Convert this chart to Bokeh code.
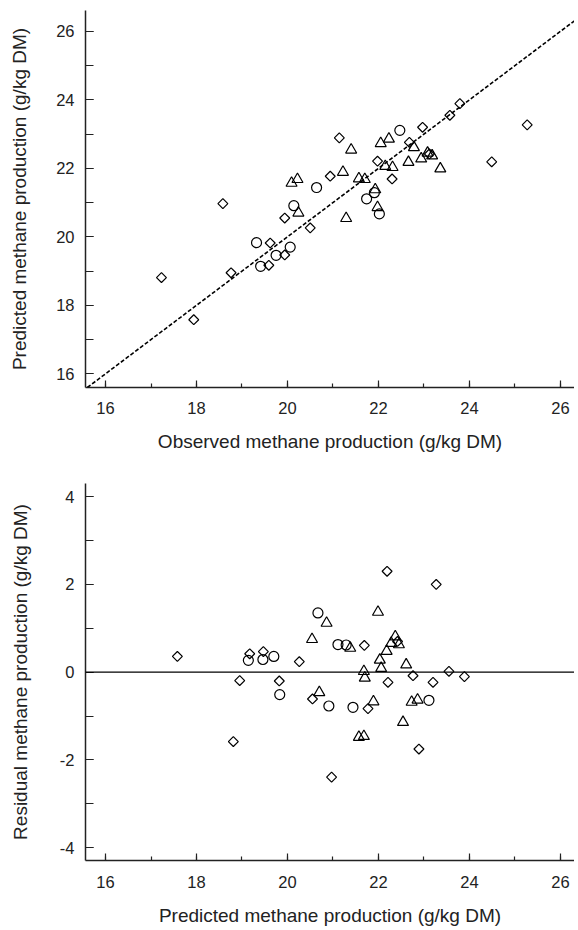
from bokeh.plotting import figure
from bokeh.models import Range1d, SingleIntervalTicker, Slope, Span, NumeralTickFormatter
from bokeh.layouts import column
from bokeh.embed import file_html
from bokeh.resources import INLINE

# ---- data ----
# diamonds
dia_pred = [17.58, 22.19, 23.27, 19.17, 19.47, 20.26, 21.69, 18.95, 19.82, 20.55,
            21.77, 22.21, 22.76, 23.20, 23.55, 23.89, 18.81, 22.89, 20.97, 22.42]
dia_obs = [17.94, 24.49, 25.27, 19.59, 19.94, 20.50, 22.30, 18.76, 19.62, 19.94,
           20.94, 21.98, 22.68, 22.97, 23.57, 23.79, 17.23, 21.14, 18.58, 23.12]
dia_res = [0.36, 2.30, 2.00, 0.42, 0.47, 0.24, 0.61, -0.19, -0.20, -0.61,
           -0.83, -0.23, -0.08, -0.23, 0.02, -0.10, -1.58, -1.75, -2.39, 0.70]
# circles
cir_pred = [20.67, 21.11, 21.29, 19.14, 19.46, 19.70, 19.83, 20.91, 21.44, 23.11]
cir_obs = [22.02, 21.74, 21.91, 19.41, 19.75, 20.06, 19.32, 20.14, 20.64, 22.47]
cir_res = [1.35, 0.63, 0.62, 0.27, 0.29, 0.36, -0.51, -0.77, -0.80, -0.64]
# triangles
tri_pred = [20.54, 20.86, 21.99, 21.38, 22.37, 22.28, 22.45, 22.18, 22.03, 22.06,
            21.68, 21.70, 22.61, 20.70, 21.89, 22.73, 22.86, 22.54, 21.57, 21.68]
tri_obs = [21.29, 21.98, 23.36, 21.93, 23.18, 22.94, 23.08, 22.66, 22.31, 22.15,
           21.70, 21.57, 22.78, 20.24, 21.22, 22.05, 22.23, 21.40, 20.09, 20.22]
tri_res = [0.75, 1.12, 1.37, 0.55, 0.81, 0.66, 0.63, 0.48, 0.28, 0.09,
           0.02, -0.13, 0.17, -0.46, -0.67, -0.68, -0.63, -1.14, -1.48, -1.46]

x_title_top = "Observed methane production (g/kg DM)"
y_title_top = "Predicted methane production (g/kg DM)"
x_title_bot = "Predicted methane production (g/kg DM)"
y_title_bot = "Residual methane production (g/kg DM)"

FONT = "Liberation Sans"
INK = "#222222"


def make_fig(height, border_top, border_bottom, xr, yr, xt, yt, ystand, xlab_stand):
    p = figure(width=574, height=height, output_backend="svg", toolbar_location=None,
               x_range=Range1d(*xr), y_range=Range1d(*yr),
               min_border_left=85, min_border_right=0,
               min_border_top=border_top, min_border_bottom=border_bottom)
    p.outline_line_color = None
    p.grid.visible = False
    p.background_fill_color = "white"
    p.border_fill_color = "white"
    p.xaxis.ticker = SingleIntervalTicker(interval=2, num_minor_ticks=2)
    p.yaxis.ticker = SingleIntervalTicker(interval=2, num_minor_ticks=2)
    for ax in (p.xaxis[0], p.yaxis[0]):
        ax.formatter = NumeralTickFormatter(format="0")
        ax.axis_line_color = INK
        ax.axis_line_width = 1.5
        ax.major_tick_line_color = INK
        ax.minor_tick_line_color = INK
        ax.major_tick_line_width = 1.2
        ax.minor_tick_line_width = 1.2
        ax.major_tick_out = 0
        ax.minor_tick_out = 0
        ax.major_label_text_font = FONT
        ax.major_label_text_font_size = "16.5px"
        ax.major_label_text_color = INK
        ax.axis_label_text_font = FONT
        ax.axis_label_text_font_size = "19px"
        ax.axis_label_text_font_style = "normal"
        ax.axis_label_text_color = INK
    xa, ya = p.xaxis[0], p.yaxis[0]
    xa.major_tick_in = 7
    xa.minor_tick_in = 4
    ya.major_tick_in = 8
    ya.minor_tick_in = 8
    xa.major_label_standoff = xlab_stand
    xa.axis_label_standoff = 14
    ya.major_label_standoff = 11
    ya.axis_label_standoff = ystand
    xa.axis_label = xt
    ya.axis_label = yt
    return p


def add_points(p, xs_list, ys_list):
    (dx, cx, tx), (dy, cy, ty) = xs_list, ys_list
    style = dict(fill_color=None, line_color="black", line_width=1.2)
    p.scatter(dx, dy, marker="square", size=7, angle=0.7853981634, **style)
    p.scatter(cx, cy, marker="circle", size=10, **style)
    p.scatter(tx, ty, marker="triangle", size=11, **style)


# ---- top: predicted vs observed ----
p1 = make_fig(462, 10, 75, (15.56, 26.31), (15.6, 26.61), x_title_top, y_title_top, 23, 14)
p1.add_layout(Slope(gradient=1, y_intercept=0, line_color="black", line_width=1.6,
                    line_dash="4 2"))
add_points(p1, (dia_obs, cir_obs, tri_obs), (dia_pred, cir_pred, tri_pred))

# ---- bottom: residual vs predicted ----
p2 = make_fig(467, 21, 69, (15.56, 26.31), (-4.29, 4.3), x_title_bot, y_title_bot, 26, 15)
p2.add_layout(Span(location=0, dimension="width", line_color="black", line_width=1.2))
add_points(p2, (dia_pred, cir_pred, tri_pred), (dia_res, cir_res, tri_res))

layout = column(p1, p2, spacing=0)
open("out.html", "w").write(file_html(layout, INLINE))
